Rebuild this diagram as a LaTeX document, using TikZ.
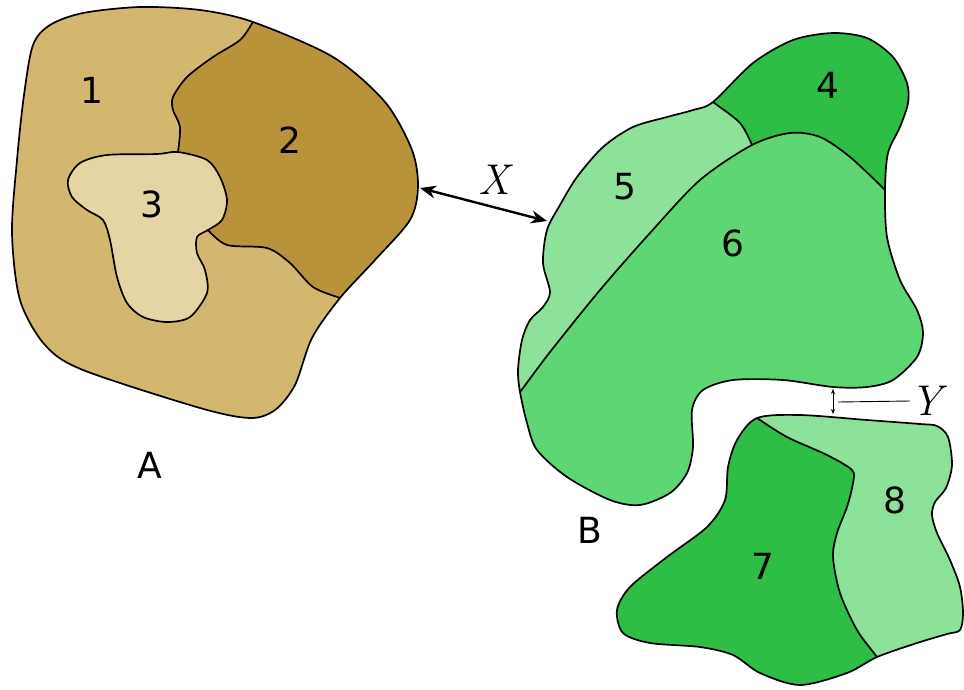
\documentclass[tikz,border=0pt]{standalone}
\usepackage{fontspec}
\setsansfont{DejaVu Sans}
\usetikzlibrary{arrows.meta}
\definecolor{tanA}{RGB}{212,183,110}
\definecolor{tanB}{RGB}{185,147,58}
\definecolor{tanC}{RGB}{229,213,164}
\definecolor{gDark}{RGB}{46,189,69}
\definecolor{gMid}{RGB}{94,214,116}
\definecolor{gLight}{RGB}{140,226,152}
\tikzset{
  edgeline/.style={line width=1.7pt, line join=round, line cap=round},
  lbl/.style={font=\sffamily\fontsize{36}{40}\selectfont, inner sep=0pt},
  mlbl/.style={font=\rmfamily\itshape\fontsize{43}{46}\selectfont, inner sep=0pt},
  bigarrow/.style={line width=2.4pt, {Stealth[length=16pt,width=13pt]}-{Stealth[length=16pt,width=13pt]}},
  smallarrow/.style={line width=0.9pt, {Stealth[length=5pt,width=4pt]}-{Stealth[length=5pt,width=4pt]}},
  thinline/.style={line width=0.9pt}
}
\begin{document}
\begin{tikzpicture}[x=1pt,y=-1pt]
\useasboundingbox[fill=white] (0,0) rectangle (964,689);

% ---------- Shape A ----------
\def\Aout{(24,95) (33,45) (50,25) (83,13) (140,7) (200,10) (253,22) (333,57) (385,102) (412,150) (418,187) (410,220) (375,260) (340,298) (312,338) (295,385) (275,410) (250,418) (200,408) (83,370) (45,345) (20,300) (12,233) (17,160)}
\def\Aup{(258,14) (253,22) (240,40) (213,57) (187,77) (173,97) (173,110) (180,127) (178,152)}
\def\Alow{(208,230) (227,245) (267,248) (290,263) (313,287) (340,298) (348,301)}
\def\Athree{(178,152) (157,154) (107,155) (80,163) (68,180) (72,197) (87,210) (103,220) (110,240) (117,277) (127,303) (143,317) (167,322) (190,317) (207,293) (205,270) (197,253) (197,237) (208,230) (222,220) (227,200) (220,177) (207,160)}
\fill[tanA] plot[smooth cycle] coordinates {\Aout};
\begin{scope}
  \clip plot[smooth cycle] coordinates {\Aout};
  \fill[tanB] plot[smooth] coordinates {\Aup} -- (195,190) -- plot[smooth] coordinates {\Alow} -- (450,320) -- (450,0) -- cycle;
  \fill[tanC] plot[smooth cycle] coordinates {\Athree};
  \draw[edgeline] plot[smooth] coordinates {\Aup};
  \draw[edgeline] plot[smooth] coordinates {\Alow};
  \draw[edgeline] plot[smooth cycle] coordinates {\Athree};
\end{scope}
\draw[edgeline] plot[smooth cycle] coordinates {\Aout};

% ---------- Shape B ----------
\def\Bout{(713,102) (753,63) (793,40) (833,33) (867,38) (893,57) (907,83) (908,103) (900,127) (888,153) (885,190) (887,237) (900,280) (917,310) (923,333) (917,357) (893,380) (867,387) (833,387) (783,380) (733,380) (703,390) (692,410) (693,447) (687,473) (670,493) (640,505) (610,500) (567,477) (537,450) (527,423) (520,392) (518,370) (522,340) (530,320) (543,307) (550,292) (543,263) (547,230) (560,205) (577,177) (603,147) (633,127) (667,117) (693,110)}
\def\Bfour{(703,94) (713,102) (740,123) (752,145)}
\def\Bsix{(513,400) (520,392) (550,352) (600,290) (650,233) (700,180) (752,145) (790,133) (820,137) (850,157) (885,190) (892,198)}
\fill[gLight] plot[smooth cycle] coordinates {\Bout};
\begin{scope}
  \clip plot[smooth cycle] coordinates {\Bout};
  \fill[gDark] plot[smooth] coordinates {\Bfour} -- (780,165) -- (960,220) -- (960,0) -- (700,0) -- cycle;
  \fill[gMid] plot[smooth] coordinates {\Bsix} -- (960,198) -- (960,560) -- (500,560) -- cycle;
  \draw[edgeline] plot[smooth] coordinates {\Bfour};
  \draw[edgeline] plot[smooth] coordinates {\Bsix};
\end{scope}
\draw[edgeline] plot[smooth cycle] coordinates {\Bout};

% ---------- Shape C ----------
\def\Cout{(757,418) (800,415) (867,420) (920,424) (937,426) (948,437) (952,465) (946,488) (935,502) (932,515) (937,533) (950,560) (960,587) (963,613) (960,630) (947,634) (917,643) (877,657) (847,673) (800,685) (760,673) (733,655) (700,647) (650,643) (623,633) (617,610) (630,587) (667,557) (707,527) (725,500) (728,467) (737,440)}
\def\Cseven{(750,413) (757,418) (787,437) (827,455) (852,470) (853,483) (847,507) (837,533) (833,557) (840,593) (857,630) (877,657) (882,665)}
\fill[gLight] plot[smooth cycle] coordinates {\Cout};
\begin{scope}
  \clip plot[smooth cycle] coordinates {\Cout};
  \fill[gDark] plot[smooth] coordinates {\Cseven} -- (890,700) -- (600,700) -- (600,400) -- (745,400) -- cycle;
  \draw[edgeline] plot[smooth] coordinates {\Cseven};
\end{scope}
\draw[edgeline] plot[smooth cycle] coordinates {\Cout};

% ---------- Labels ----------
\node[lbl] (l1) at (92,90) {1};
\node[lbl] (l2) at (290,140) {2};
\node[lbl] (l3) at (152,204) {3};
\node[lbl] (lA) at (150,465) {A};
\node[lbl] (l4) at (828,85) {4};
\node[lbl] (l5) at (625,187) {5};
\node[lbl] (l6) at (733,243) {6};
\node[lbl] (lB) at (590,530) {B};
\node[lbl] (l7) at (763,566) {7};
\node[lbl] (l8) at (895,500) {8};

% ---------- Distance markers ----------
\coordinate (xa) at (420,188);
\coordinate (xb) at (547,221);
\draw[bigarrow] (xa) -- (xb);
\node[mlbl] (lX) at (494,180) {X};

\coordinate (ya) at (833,389);
\coordinate (yb) at (833,414);
\coordinate (yl) at (838,402);
\draw[smallarrow] (ya) -- (yb);
\node[mlbl] (lY) at (926,401) {Y};
\draw[thinline] (yl) -- (lY.west);
\end{tikzpicture}
\end{document}
